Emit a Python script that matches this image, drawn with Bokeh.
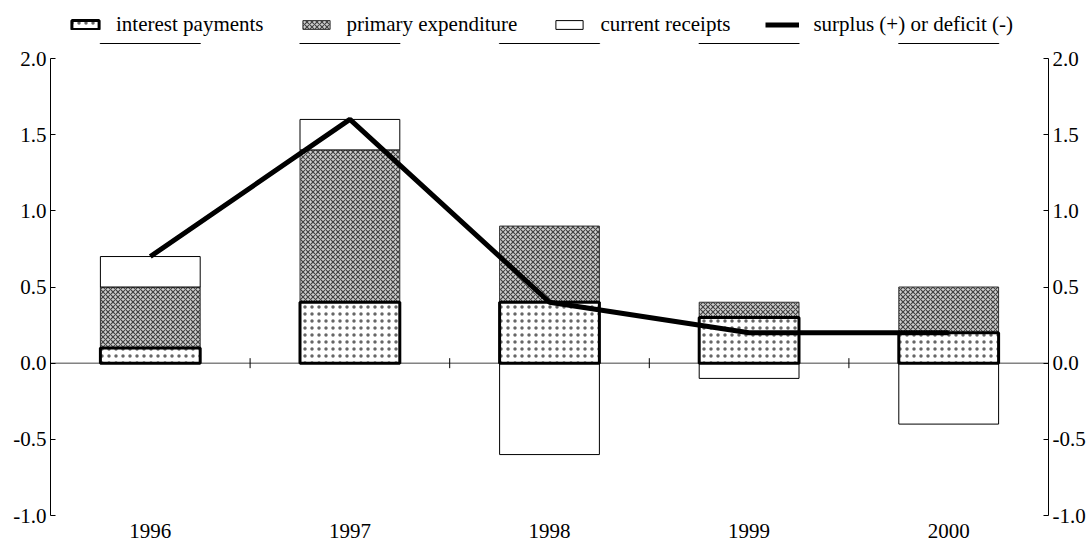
import numpy as np
from bokeh.plotting import figure
from bokeh.layouts import column
from bokeh.models import (LinearAxis, FixedTicker, Span, Legend, LegendItem,
                          NumeralTickFormatter, Range1d)
from bokeh.embed import file_html
from bokeh.resources import INLINE

# ---- data ----
years = ["1996", "1997", "1998", "1999", "2000"]
interest = [0.1, 0.4, 0.4, 0.3, 0.2]
primary = [0.4, 1.0, 0.5, 0.1, 0.3]
receipts = [0.2, 0.2, -0.6, -0.1, -0.4]
surplus = [0.7, 1.6, 0.4, 0.2, 0.2]
y_ticks = [-1.0, -0.5, 0.0, 0.5, 1.0, 1.5, 2.0]
labels = ["interest payments", "primary expenditure", "current receipts",
          "surplus (+) or deficit (-)"]

FONT = "Liberation Serif"
FS = "21px"

n = len(years)
xc = [i + 0.5 for i in range(n)]
bounds = list(range(1, n))

prim_bottom = interest
prim_top = [a + b for a, b in zip(interest, primary)]
rec_bottom = [t if r > 0 else 0 for t, r in zip(prim_top, receipts)]
rec_top = [t + r if r > 0 else r for t, r in zip(prim_top, receipts)]

PRIM = dict(fill_color="#cfcfcf", hatch_pattern="diagonal_cross", hatch_color="#444",
            hatch_scale=5, hatch_weight=1.2, line_color="#333", line_width=1)
REC = dict(fill_color="white", line_color="black", line_width=1)
INT = dict(fill_color="white", hatch_pattern="dot", hatch_color="#666",
           hatch_scale=7, hatch_weight=1, line_color="black", line_width=3)
LINE = dict(line_color="black", line_width=5)

LEG_H = 44


def draw_series(fig):
    r_prim = fig.vbar(x=xc, bottom=prim_bottom, top=prim_top, width=0.5, **PRIM)
    r_rec = fig.vbar(x=xc, bottom=rec_bottom, top=rec_top, width=0.5, **REC)
    r_int = fig.vbar(x=xc, bottom=[0] * n, top=interest, width=0.5, **INT)
    r_line = fig.line(x=xc, y=surplus, **LINE)
    return r_int, r_prim, r_rec, r_line


# ---- main chart ----
p = figure(width=1088, height=541 - LEG_H, x_range=Range1d(0, n), y_range=Range1d(-1, 2),
           output_backend="svg", toolbar_location=None,
           min_border_left=50, min_border_right=40, min_border_top=58 - LEG_H,
           min_border_bottom=26)
p.outline_line_color = None
p.grid.visible = False

p.add_layout(Span(location=0, dimension="width", line_color="#444", line_width=1, level="underlay"))
p.scatter(x=bounds, y=[0] * len(bounds), marker="dash", angle=np.pi / 2, size=10,
          line_color="black", line_width=1)
draw_series(p)

xa = p.xaxis[0]
xa.ticker = FixedTicker(ticks=xc)
xa.major_label_overrides = {x: y for x, y in zip(xc, years)}
xa.axis_line_color = None
xa.major_tick_line_color = None
xa.minor_tick_line_color = None
xa.major_label_standoff = 2
xa.major_label_text_font = FONT
xa.major_label_text_font_size = FS
xa.major_label_text_color = "black"

ya = p.yaxis[0]
ra = LinearAxis()
p.add_layout(ra, "right")
for ax in (ya, ra):
    ax.ticker = FixedTicker(ticks=y_ticks)
    ax.formatter = NumeralTickFormatter(format="0.0")
    ax.major_tick_in = 5
    ax.major_tick_out = 0
    ax.minor_tick_line_color = None
    ax.axis_line_color = "black"
    ax.major_tick_line_color = "black"
    ax.major_label_standoff = 4
    ax.major_label_text_font = FONT
    ax.major_label_text_font_size = FS
    ax.major_label_text_color = "black"

# ---- legend strip: same series drawn out of view, only the legend shows ----
lf = figure(width=1088, height=LEG_H, x_range=Range1d(0, n), y_range=Range1d(5, 6),
            output_backend="svg", toolbar_location=None, x_axis_type=None, y_axis_type=None,
            min_border_left=0, min_border_right=0, min_border_top=0, min_border_bottom=0)
lf.outline_line_color = None
lf.grid.visible = False
leg_renderers = draw_series(lf)

legend = Legend(items=[LegendItem(label=lab, renderers=[r]) for lab, r in
                       zip(labels, leg_renderers)],
                orientation="horizontal", location=(18, 7), glyph_width=34, glyph_height=11,
                label_standoff=14, spacing=35, padding=4, margin=0, border_line_color=None,
                background_fill_alpha=0, label_text_font=FONT, label_text_font_size=FS,
                label_text_color="black")
lf.add_layout(legend)

layout = column(lf, p, spacing=0)
open("out.html", "w").write(file_html(layout, INLINE))
